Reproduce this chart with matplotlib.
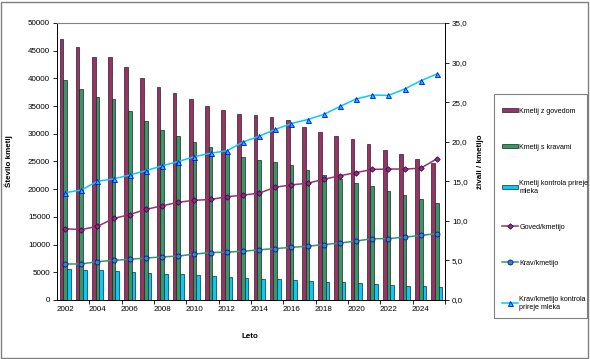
import numpy as np
import matplotlib
matplotlib.use('Agg')
import matplotlib.pyplot as plt
from matplotlib.ticker import FuncFormatter
from matplotlib.patches import Rectangle, Patch
from matplotlib.lines import Line2D

plt.rcParams['font.family'] = ['Liberation Sans', 'DejaVu Sans']

# --- podatki ---
leta = list(range(2002, 2026))
kmetije_govedo = [47200, 45600, 43800, 43850, 42000, 40100, 38500, 37300, 36200, 35100,
                  34250, 33650, 33350, 33000, 32450, 31300, 30350, 29600, 29050, 28100,
                  27100, 26300, 25400, 24700]
kmetije_krave = [39650, 38100, 36600, 36250, 34200, 32250, 30700, 29650, 28600, 27550,
                 26600, 25800, 25350, 24850, 24300, 23400, 22600, 21850, 21150, 20600,
                 19750, 18950, 18150, 17550]
kmetije_kontrola = [5550, 5350, 5350, 5300, 5000, 4850, 4750, 4650, 4500, 4400,
                    4200, 3900, 3800, 3750, 3600, 3450, 3300, 3200, 3000, 2900,
                    2750, 2600, 2450, 2400]
goved_kmetijo = [9.0, 8.9, 9.3, 10.3, 10.8, 11.45, 11.9, 12.35, 12.6, 12.7,
                 13.05, 13.25, 13.5, 14.25, 14.55, 14.75, 15.25, 15.7, 16.1, 16.5,
                 16.55, 16.55, 16.65, 17.85]
krav_kmetijo = [4.55, 4.55, 4.85, 5.0, 5.15, 5.3, 5.45, 5.55, 5.8, 6.0,
                6.05, 6.15, 6.35, 6.5, 6.65, 6.8, 7.0, 7.2, 7.45, 7.75,
                7.75, 7.95, 8.15, 8.4]
krav_kmetijo_kontrola = [13.55, 13.9, 15.0, 15.3, 15.8, 16.35, 16.95, 17.5, 18.1, 18.55,
                         18.85, 19.95, 20.7, 21.55, 22.3, 22.8, 23.45, 24.45, 25.4, 25.9,
                         25.85, 26.65, 27.7, 28.55]

C_GOV = '#993366'
C_KRAV = '#339966'
C_KONT = '#00CCFF'
FS = 5.8
FS_LEG = 5.1

fig = plt.figure(figsize=(5.9, 3.59), dpi=100)
W, H = 590.0, 359.0
ax = fig.add_axes([57 / W, 1 - 300 / H, (445 - 57) / W, 277 / H])

x = np.arange(len(leta))
w = 0.23
ax.bar(x - w, kmetije_govedo, w, color=C_GOV, edgecolor='#222222', linewidth=0.5, zorder=2)
ax.bar(x, kmetije_krave, w, color=C_KRAV, edgecolor='#222222', linewidth=0.5, zorder=2)
ax.bar(x + w, kmetije_kontrola, w, color=C_KONT, edgecolor='#222222', linewidth=0.5, zorder=2)

ax.set_xlim(-0.5, len(leta) - 0.5)
ax.set_ylim(0, 50000)
ax.set_yticks(range(0, 50001, 5000))
ax.set_xticks(x[::2])
ax.set_xticklabels([str(l) for l in leta[::2]])
ax.set_xticks(np.arange(1.5, len(leta), 2), minor=True)
ax.tick_params(axis='x', which='major', length=0, labelsize=FS, pad=4)
ax.tick_params(axis='x', which='minor', length=3, width=0.6, direction='out')
ax.tick_params(axis='y', length=3, width=0.6, labelsize=FS, pad=2)
for s in ['left', 'bottom']:
    ax.spines[s].set_linewidth(0.7)
ax.spines['top'].set_color('#808080')
ax.spines['top'].set_linewidth(0.8)
ax.spines['right'].set_visible(False)

ax.set_ylabel('Število kmetij', fontsize=FS, fontweight='bold')
ax.yaxis.set_label_coords(-0.113, 0.5)
ax.set_xlabel('Leto', fontsize=FS, fontweight='bold')
ax.xaxis.set_label_coords(0.497, -0.12)

ax2 = ax.twinx()
ax2.plot(x, goved_kmetijo, color=C_GOV, lw=1.1, marker='D', ms=2.8,
         mfc=C_GOV, mec='#330066', mew=0.6, zorder=3)
ax2.plot(x, krav_kmetijo, color=C_KRAV, lw=1.1, marker='o', ms=3.6,
         mfc=C_KRAV, mec='#0000FF', mew=0.6, zorder=3)
ax2.plot(x, krav_kmetijo_kontrola, color=C_KONT, lw=1.1, marker='^', ms=3.6,
         mfc=C_KONT, mec='#0000FF', mew=0.6, zorder=3)
ax2.set_ylim(0, 35)
ax2.set_yticks(np.arange(0, 35.1, 5))
ax2.yaxis.set_major_formatter(FuncFormatter(lambda v, p: f'{v:.1f}'.replace('.', ',')))
ax2.tick_params(axis='y', length=3, width=0.6, labelsize=FS, pad=2)
for s in ['left', 'bottom', 'top']:
    ax2.spines[s].set_visible(False)
ax2.spines['right'].set_linewidth(0.7)
ax2.set_ylabel('živali / kmetijo', fontsize=FS, fontweight='bold')
ax2.yaxis.set_label_coords(1.082, 0.5)

# legenda
handles = [
    Patch(facecolor=C_GOV, edgecolor='#222222', linewidth=0.5),
    Patch(facecolor=C_KRAV, edgecolor='#222222', linewidth=0.5),
    Patch(facecolor=C_KONT, edgecolor='#222222', linewidth=0.5),
    Line2D([], [], color=C_GOV, lw=1.1, marker='D', ms=2.8, mfc=C_GOV, mec='#330066', mew=0.6),
    Line2D([], [], color=C_KRAV, lw=1.1, marker='o', ms=3.6, mfc=C_KRAV, mec='#0000FF', mew=0.6),
    Line2D([], [], color=C_KONT, lw=1.1, marker='^', ms=3.6, mfc=C_KONT, mec='#0000FF', mew=0.6),
]
labels = ['Kmetij z govedom', 'Kmetij s kravami', 'Kmetij kontrola prireje\nmleka',
          'Goved/kmetijo', 'Krav/kmetijo', 'Krav/kmetijo kontrola\nprireje mleka']
fig.legend(handles, labels, loc='upper left', bbox_to_anchor=(498 / W, 1 - 104 / H),
           frameon=False, fontsize=FS_LEG, labelspacing=4.1, borderpad=0,
           handlelength=2.3, handleheight=0.6, handletextpad=0.2, numpoints=1)
fig.patches.append(Rectangle((494 / W, 1 - 318 / H), 93 / W, 224 / H, transform=fig.transFigure,
                             fill=False, edgecolor='#808080', linewidth=0.8))

fig.patches.append(Rectangle((1 / W, 1 / H), 587 / W, 356 / H, transform=fig.transFigure,
                             fill=False, edgecolor='#808080', linewidth=1.0))

fig.savefig('out.png', dpi=100)
